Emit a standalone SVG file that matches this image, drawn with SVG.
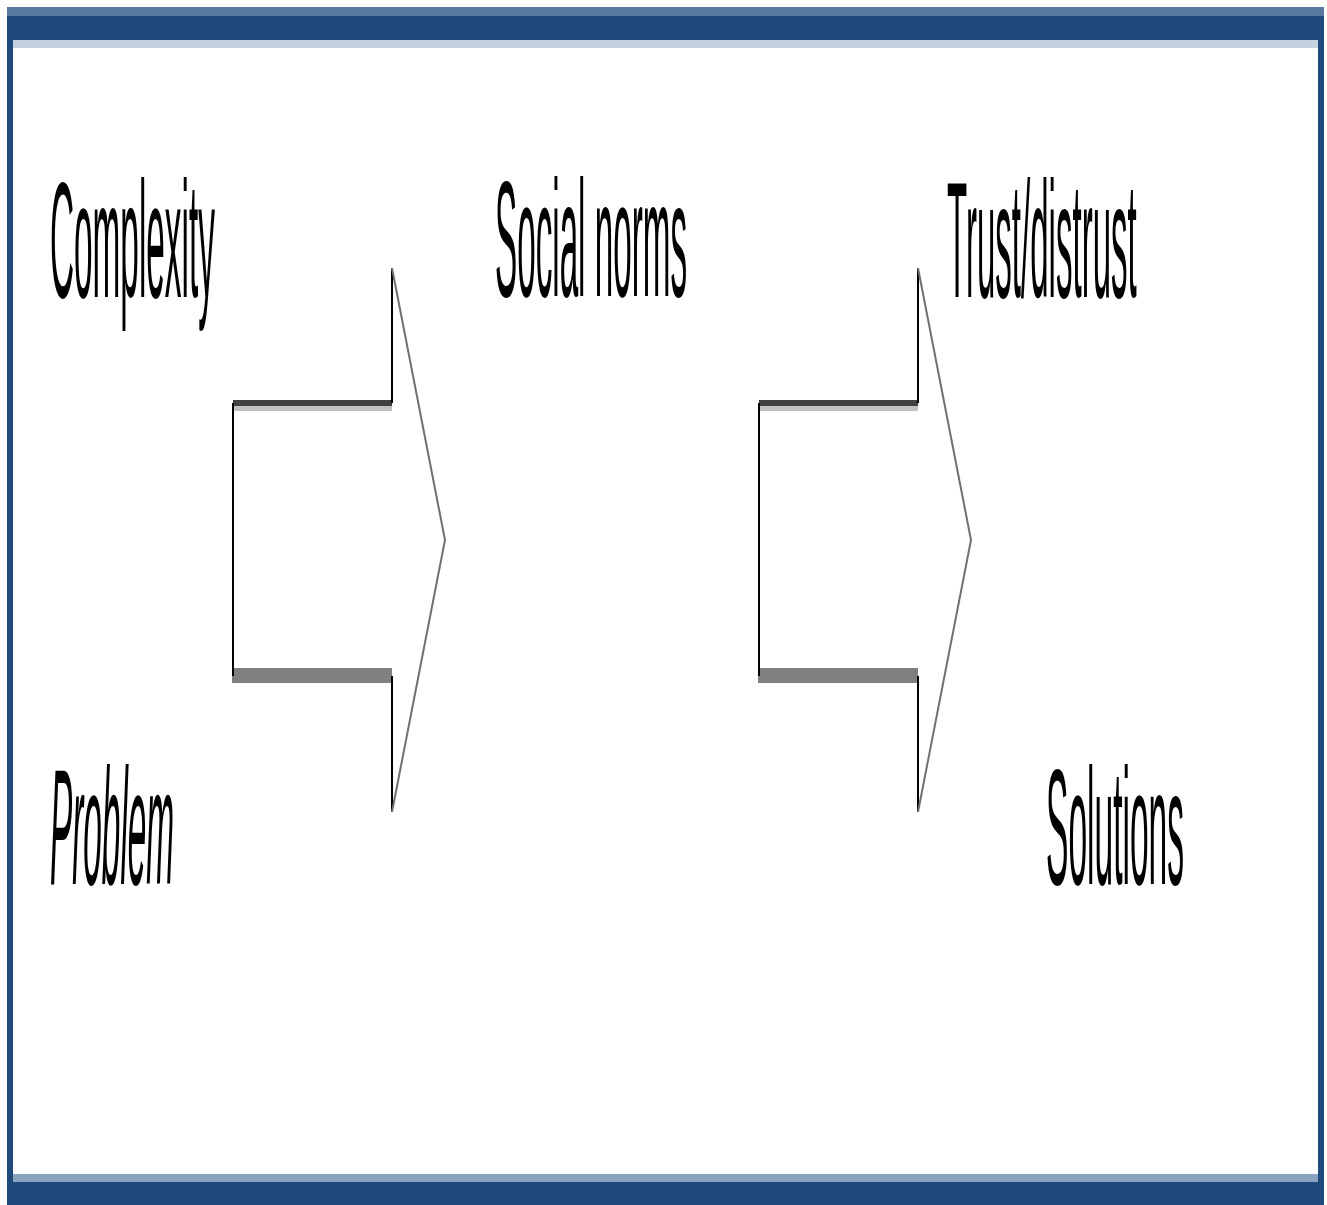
<svg xmlns="http://www.w3.org/2000/svg" width="1327" height="1205" viewBox="0 0 1327 1205">
<style>
.lbl{font-family:"Liberation Sans",Arial,sans-serif;font-size:165px;fill:#000}
.it{font-style:italic}
.edge{stroke:#000;stroke-width:2;fill:none}
.diag{stroke:#707070;stroke-width:2;fill:none}
</style>
<rect x="0" y="0" width="1327" height="1205" fill="#fff"/>
<g id="frame">
<rect x="7" y="7" width="1317" height="10" fill="#587aa0"/>
<rect x="7" y="16" width="1317" height="24" fill="#1f4a7c"/>
<rect x="13" y="40" width="1305" height="8" fill="#c5d0e0"/>
<rect x="7" y="16" width="6" height="1189" fill="#1f4a7c"/>
<rect x="1318" y="16" width="6" height="1189" fill="#1f4a7c"/>
<rect x="13" y="1174" width="1305" height="8" fill="#8ba2c0"/>
<rect x="7" y="1182" width="1317" height="23" fill="#1f4a7c"/>
</g>
<g id="connectors">
<g id="arrow1">
<rect x="233" y="400" width="159" height="6" fill="#404040"/>
<rect x="233" y="406" width="159" height="5" fill="#c0c0c0"/>
<rect x="232" y="668" width="160" height="15" fill="#808080"/>
<line class="edge" x1="233" y1="403" x2="233" y2="676"/>
<line class="edge" x1="392" y1="268" x2="392" y2="403"/>
<line class="edge" x1="392" y1="676" x2="392" y2="812"/>
<polyline class="diag" points="392,268 445,540 392,812"/>
</g>
<g id="arrow2">
<rect x="759" y="400" width="159" height="6" fill="#404040"/>
<rect x="759" y="406" width="159" height="5" fill="#c0c0c0"/>
<rect x="758" y="668" width="160" height="15" fill="#808080"/>
<line class="edge" x1="759" y1="403" x2="759" y2="676"/>
<line class="edge" x1="918" y1="268" x2="918" y2="403"/>
<line class="edge" x1="918" y1="676" x2="918" y2="812"/>
<polyline class="diag" points="918,268 971,540 918,812"/>
</g>
</g>
<g id="complexity"><text class="lbl" transform="translate(50,297) scale(0.202,1)" x="0" y="0">Complexity</text></g>
<g id="social-norms"><text class="lbl" transform="translate(495,296) scale(0.2014,1)" x="0" y="0">Social norms</text></g>
<g id="trust-distrust"><text class="lbl" transform="translate(947,297) scale(0.2003,1)" x="0" y="0">Trust/distrust</text></g>
<g id="problem"><text class="lbl it" transform="translate(50,884) scale(0.202,1)" x="0" y="0">Problem</text></g>
<g id="solutions"><text class="lbl" transform="translate(1046,884) scale(0.2034,1)" x="0" y="0">Solutions</text></g>
</svg>
